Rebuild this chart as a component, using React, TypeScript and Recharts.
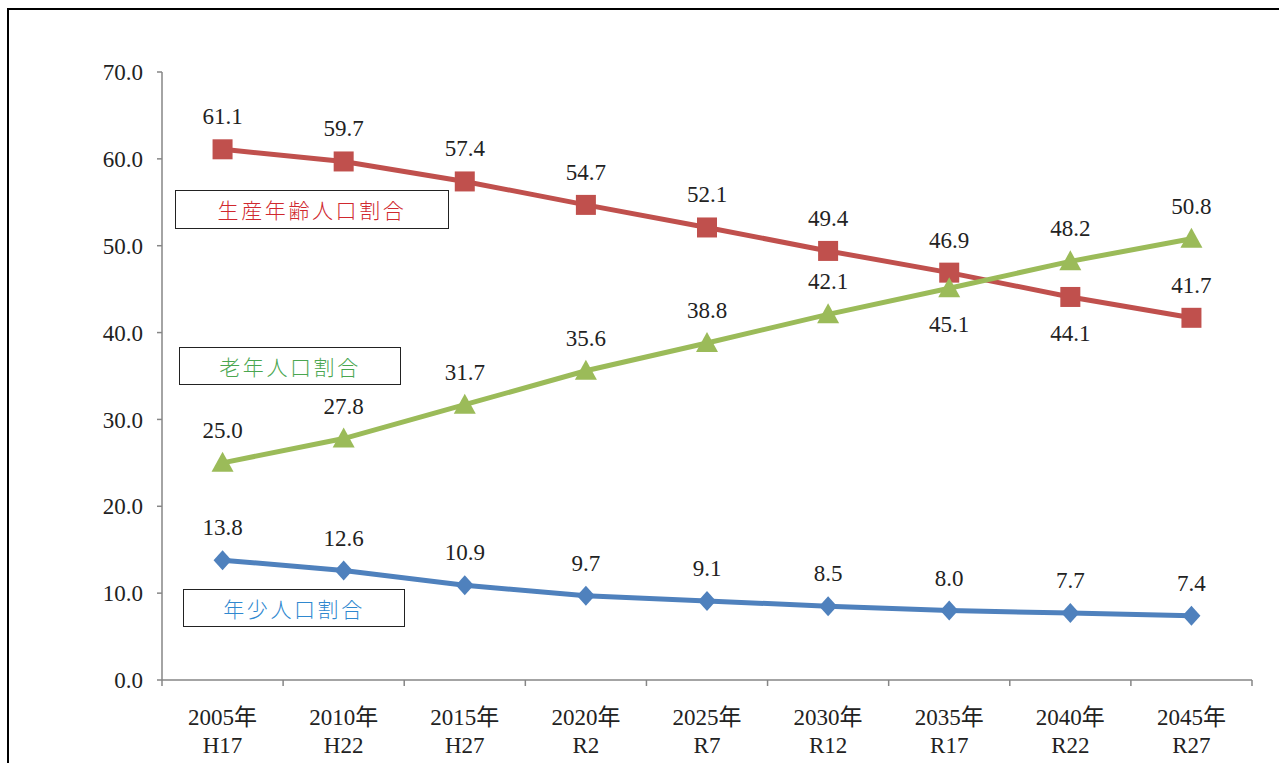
import { LineChart, Line, XAxis, YAxis, LabelList } from "recharts";

const years = ["2005年", "2010年", "2015年", "2020年", "2025年", "2030年", "2035年", "2040年", "2045年"];
const eras = ["H17", "H22", "H27", "R2", "R7", "R12", "R17", "R22", "R27"];
const childShare = [13.8, 12.6, 10.9, 9.7, 9.1, 8.5, 8.0, 7.7, 7.4];
const workingShare = [61.1, 59.7, 57.4, 54.7, 52.1, 49.4, 46.9, 44.1, 41.7];
const elderlyShare = [25.0, 27.8, 31.7, 35.6, 38.8, 42.1, 45.1, 48.2, 50.8];
const yTicks = [0, 10, 20, 30, 40, 50, 60, 70];

// which data labels sit under the point instead of above
const workingBelow = [7];
const elderlyBelow = [6];

const data = years.map((year, i) => ({
  year,
  era: eras[i],
  child: childShare[i],
  working: workingShare[i],
  elderly: elderlyShare[i],
}));

const SERIF = "'Liberation Serif', 'Noto Sans CJK JP', serif";
const RED = "#c0504d";
const GREEN = "#9bbb59";
const BLUE = "#4f81bd";
const AXIS = "#868686";

const PLOT_LEFT = 162;
const PLOT_RIGHT = 1252;
const BAND = (PLOT_RIGHT - PLOT_LEFT) / years.length;

const SquareDot = (props: any) => {
  const { cx, cy } = props;
  if (cx == null || cy == null) return null;
  return <rect x={cx - 10} y={cy - 10} width={20} height={20} fill={RED} />;
};

const TriangleDot = (props: any) => {
  const { cx, cy } = props;
  if (cx == null || cy == null) return null;
  return <polygon points={`${cx},${cy - 11} ${cx + 11},${cy + 9} ${cx - 11},${cy + 9}`} fill={GREEN} />;
};

const DiamondDot = (props: any) => {
  const { cx, cy } = props;
  if (cx == null || cy == null) return null;
  return <polygon points={`${cx},${cy - 10} ${cx + 9},${cy} ${cx},${cy + 10} ${cx - 9},${cy}`} fill={BLUE} />;
};

const makeLabel = (below: number[]) => (props: any) => {
  const { x, y, value, index } = props;
  const under = below.includes(index);
  return (
    <text
      x={x}
      y={under ? y + 44 : y - 25}
      textAnchor="middle"
      fontFamily={SERIF}
      fontSize={23}
      fill="#222"
    >
      {Number(value).toFixed(1)}
    </text>
  );
};

const XTick = (props: any) => {
  const { x, y, payload, index } = props;
  const axisY = y;
  const left = x - BAND / 2;
  const right = x + BAND / 2;
  return (
    <g>
      <line x1={left} y1={axisY} x2={left} y2={axisY + 6} stroke={AXIS} strokeWidth={1.5} />
      {index === years.length - 1 && (
        <line x1={right} y1={axisY} x2={right} y2={axisY + 6} stroke={AXIS} strokeWidth={1.5} />
      )}
      <text x={x} y={axisY + 45} textAnchor="middle" fontFamily={SERIF} fontSize={23} fill="#222">
        {payload.value}
      </text>
      <text x={x} y={axisY + 73} textAnchor="middle" fontFamily={SERIF} fontSize={23} fill="#222">
        {eras[index]}
      </text>
    </g>
  );
};

const boxStyle = (left: number, top: number, width: number, height: number, color: string) => ({
  position: "absolute" as const,
  left,
  top,
  width,
  height,
  boxSizing: "border-box" as const,
  border: "1.5px solid #222",
  background: "#fff",
  color,
  fontFamily: "'Noto Sans CJK JP', sans-serif",
  fontWeight: 300,
  fontSize: 21,
  letterSpacing: 2.6,
  display: "flex",
  alignItems: "center",
  justifyContent: "center",
  lineHeight: 1,
});

export default function App() {
  return (
    <div style={{ position: "fixed", left: 0, top: 0, width: 1279, height: 763, background: "#fff", overflow: "hidden" }}>
      <div
        style={{
          position: "absolute",
          left: 7,
          top: 8,
          width: 1320,
          height: 820,
          border: "2px solid #000",
        }}
      />
      <div style={{ position: "absolute", left: 0, top: 0 }}>
        <LineChart
          width={1279}
          height={763}
          data={data}
          margin={{ top: 72, right: 1279 - PLOT_RIGHT, bottom: 3, left: PLOT_LEFT - 80 }}
        >
          <XAxis
            dataKey="year"
            scale="band"
            interval={0}
            tickLine={false}
            tickSize={0}
            axisLine={{ stroke: AXIS, strokeWidth: 1.5 }}
            tick={<XTick />}
            tickMargin={0}
            height={80}
          />
          <YAxis
            domain={[0, 70]}
            ticks={yTicks}
            width={80}
            tickSize={5}
            tickMargin={14}
            tickFormatter={(v: number) => v.toFixed(1)}
            axisLine={{ stroke: AXIS, strokeWidth: 1.5 }}
            tickLine={{ stroke: AXIS, strokeWidth: 1.5 }}
            tick={{ fill: "#222", fontFamily: SERIF, fontSize: 23 }}
          />
          <Line
            dataKey="working"
            stroke={RED}
            strokeWidth={5}
            dot={<SquareDot />}
            activeDot={false}
            isAnimationActive={false}
          >
            <LabelList dataKey="working" content={makeLabel(workingBelow)} />
          </Line>
          <Line
            dataKey="elderly"
            stroke={GREEN}
            strokeWidth={5}
            dot={<TriangleDot />}
            activeDot={false}
            isAnimationActive={false}
          >
            <LabelList dataKey="elderly" content={makeLabel(elderlyBelow)} />
          </Line>
          <Line
            dataKey="child"
            stroke={BLUE}
            strokeWidth={5}
            dot={<DiamondDot />}
            activeDot={false}
            isAnimationActive={false}
          >
            <LabelList dataKey="child" content={makeLabel([])} />
          </Line>
        </LineChart>
      </div>
      <div style={boxStyle(175, 190, 274, 39, "#d0282e")}>生産年齢人口割合</div>
      <div style={boxStyle(179, 347, 222, 38, "#4aa650")}>老年人口割合</div>
      <div style={boxStyle(183, 589, 222, 38, "#2f88cf")}>年少人口割合</div>
    </div>
  );
}
